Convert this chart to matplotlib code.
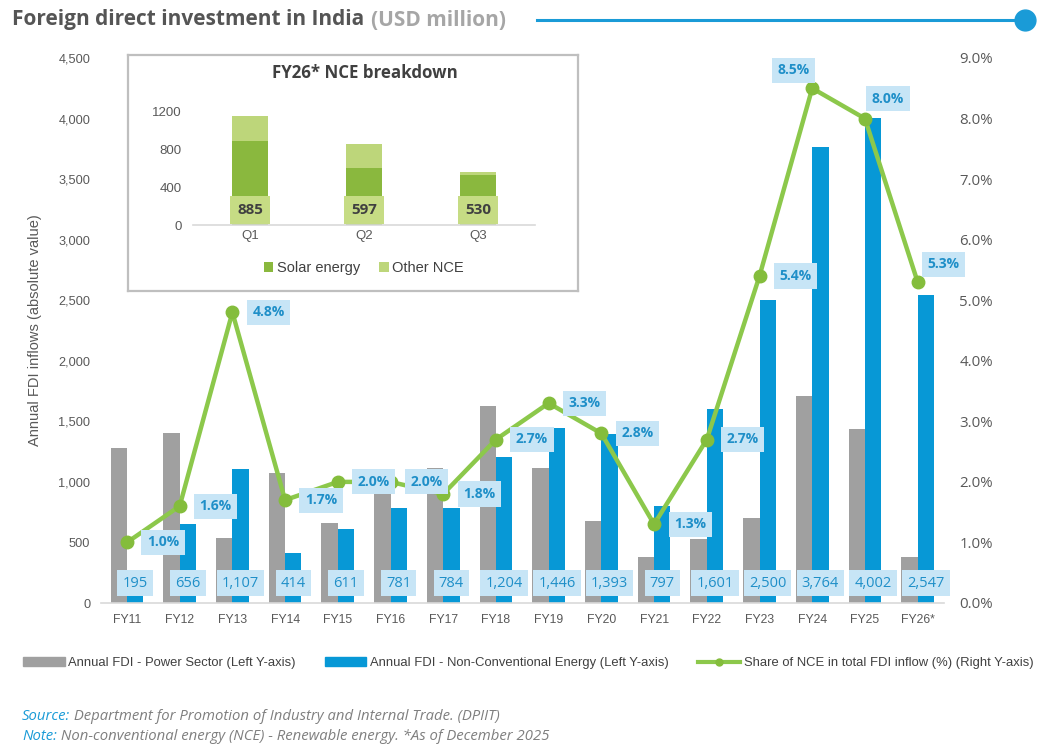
import matplotlib
matplotlib.use("Agg")
import matplotlib.pyplot as plt
from matplotlib.patches import Patch
from matplotlib.lines import Line2D
import numpy as np

# ---------------- data ----------------
years = ["FY11", "FY12", "FY13", "FY14", "FY15", "FY16", "FY17", "FY18",
         "FY19", "FY20", "FY21", "FY22", "FY23", "FY24", "FY25", "FY26*"]
power_fdi = [1280, 1405, 537, 1073, 661, 900, 1115, 1627,
             1115, 677, 380, 528, 702, 1709, 1437, 380]
nce_fdi = [195, 656, 1107, 414, 611, 781, 784, 1204,
           1446, 1393, 797, 1601, 2500, 3764, 4002, 2547]
nce_share = [1.0, 1.6, 4.8, 1.7, 2.0, 2.0, 1.8, 2.7,
             3.3, 2.8, 1.3, 2.7, 5.4, 8.5, 8.0, 5.3]

quarters = ["Q1", "Q2", "Q3"]
solar = [885, 597, 530]
other_nce = [262, 256, 28]

# ---------------- style ----------------
GRAY = "#a0a0a0"
BLUE = "#0798d6"
GREEN = "#8cc84b"
GREEN_MK = "#84bd3c"
LBOX = "#c7e5f6"
LTXT = "#1f8fc8"
TXT = "#595959"
SOLAR = "#8ab83e"
OTHER = "#bdd67a"
ARIAL = ["Liberation Sans", "DejaVu Sans"]

plt.rcParams["font.family"] = ["Open Sans", "DejaVu Sans"]

fig = plt.figure(figsize=(10.54, 7.51), dpi=100)
W, H = 1054, 751

def fx(px):
    return px / W

def fy(py):
    return 1 - py / H

ax = fig.add_axes([fx(100.6), fy(603), fx(944 - 100.6), (603 - 58) / H])
x = np.arange(len(years))
bw = 0.31
ax.bar(x - bw / 2, power_fdi, width=bw, color=GRAY, zorder=2)
ax.bar(x + bw / 2, nce_fdi, width=bw, color=BLUE, zorder=2)
ax.set_xlim(-0.5, len(years) - 0.5)
ax.set_ylim(0, 4500)
ax.set_yticks(np.arange(0, 4501, 500))
ax.set_yticklabels([f"{v:,}" for v in range(0, 4501, 500)])
ax.set_xticks(x)
ax.set_xticklabels(years)
ax.tick_params(axis="both", length=0, colors=TXT)
ax.tick_params(axis="x", pad=8, labelsize=8.8)
ax.tick_params(axis="y", pad=7.5, labelsize=9.2)
for lab in ax.get_xticklabels() + ax.get_yticklabels():
    lab.set_family(ARIAL)
for s in ["top", "right", "left"]:
    ax.spines[s].set_visible(False)
ax.spines["bottom"].set_color("#d9d9d9")
ax.spines["bottom"].set_linewidth(1.2)
ax.set_ylabel("Annual FDI inflows (absolute value)", color=TXT, fontsize=10.5,
              family=ARIAL, labelpad=12)

# value labels for NCE bars
for xi, v in zip(x, nce_fdi):
    ax.text(xi + bw / 2, 165, f"{v:,}", ha="center", va="center", fontsize=10.5,
            color=LTXT, zorder=6,
            bbox=dict(boxstyle="square,pad=0.35", fc=LBOX, ec="none"))

ax2 = ax.twinx()
ax2.set_ylim(0, 9)
ax2.set_yticks(np.arange(0, 9.01, 1))
ax2.set_yticklabels([f"{v:.1f}%" for v in np.arange(0, 9.01, 1)])
ax2.tick_params(axis="y", length=0, colors=TXT, labelsize=10.8, pad=11)
for s in ["top", "right", "left", "bottom"]:
    ax2.spines[s].set_visible(False)
ax2.plot(x, nce_share, color=GREEN, lw=3.2, marker="o", ms=9,
         mfc=GREEN_MK, mec=GREEN_MK, zorder=4)

offsets = [(36, 0)] * 13 + [(-19, 18), (23, 20), (26, 18)]
for xi, v, (dx, dy) in zip(x, nce_share, offsets):
    ax2.annotate(f"{v:.1f}%", (xi, v), xytext=(dx * 0.72, dy * 0.72),
                 textcoords="offset points", ha="center", va="center",
                 fontsize=10, fontweight="bold", color=LTXT, zorder=7,
                 bbox=dict(boxstyle="square,pad=0.4", fc=LBOX, ec="none"))

# ---------------- inset ----------------
frame = fig.add_axes([fx(128), fy(291), fx(578 - 128), (291 - 55) / H])
frame.set_xticks([])
frame.set_yticks([])
frame.set_facecolor("white")
for s in frame.spines.values():
    s.set_color("#bfbfbf")
    s.set_linewidth(1.6)
frame.set_zorder(8)

ins = fig.add_axes([fx(193), fy(225), fx(535 - 193), (225 - 111) / H])
ins.set_zorder(9)
ins.patch.set_alpha(0)
xq = np.arange(len(quarters))
ins.bar(xq, solar, width=0.32, color=SOLAR, label="Solar energy")
ins.bar(xq, other_nce, bottom=solar, width=0.32, color=OTHER, label="Other NCE")
ins.set_xlim(-0.5, 2.5)
ins.set_ylim(0, 1200)
ins.set_yticks([0, 400, 800, 1200])
ins.set_xticks(xq)
ins.set_xticklabels(quarters)
ins.tick_params(axis="both", length=0, colors=TXT, labelsize=9.5)
ins.tick_params(axis="y", pad=8)
for lab in ins.get_xticklabels() + ins.get_yticklabels():
    lab.set_family(ARIAL)
for s in ["top", "right", "left"]:
    ins.spines[s].set_visible(False)
ins.spines["bottom"].set_color("#d9d9d9")
ins.spines["bottom"].set_linewidth(1.2)
for xi, v in zip(xq, solar):
    ins.text(xi, 155, f"{v}", ha="center", va="center", fontsize=11,
             fontweight="bold", color="#404040",
             bbox=dict(boxstyle="square,pad=0.45", fc="#c6dc84", ec="none"))
fig.text(fx(365), fy(73), "FY26* NCE breakdown", ha="center", va="center",
         fontsize=12.2, fontweight="bold", color="#404040", zorder=10)
ins.legend(loc="center", bbox_to_anchor=(0.5, -0.38), ncol=2, frameon=False,
           prop={"family": ARIAL, "size": 10.5}, labelcolor="#404040",
           handlelength=0.65, handleheight=0.65, handletextpad=0.25, columnspacing=1.3)

# ---------------- title ----------------
t1 = fig.text(fx(12), fy(20), "Foreign direct investment in India", ha="left",
              va="center", fontsize=15, fontweight="bold", color="#555555")
fig.text(0, 0, "")
ann = plt.annotate("(USD million)", xy=(1, 0.5), xycoords=t1, xytext=(5, 0),
                   textcoords="offset points", ha="left", va="center",
                   fontsize=15, fontweight="bold", color="#a6a6a6",
                   annotation_clip=False)
fig.add_artist(Line2D([fx(537), fx(1025)], [fy(20), fy(20)], color="#1a9bd7", lw=2.2))
fig.add_artist(Line2D([fx(1025)], [fy(20)], marker="o", ms=15, color="#1a9bd7"))

# ---------------- legend ----------------
handles = [Patch(color=GRAY), Patch(color=BLUE),
           Line2D([0], [0], color=GREEN, lw=3, marker="o", ms=5, mfc=GREEN_MK, mec=GREEN_MK)]
labels = ["Annual FDI - Power Sector (Left Y-axis)",
          "Annual FDI - Non-Conventional Energy (Left Y-axis)",
          "Share of NCE in total FDI inflow (%) (Right Y-axis)"]
fig.legend(handles, labels, loc="center", bbox_to_anchor=(fx(528), fy(663)), ncol=3,
           frameon=False, prop={"family": ARIAL, "size": 9.4},
           labelcolor="#404040", handlelength=3.2, handleheight=0.6,
           handletextpad=0.3, columnspacing=2.2)

# ---------------- source ----------------
s1 = fig.text(fx(22), fy(717), "Source:", ha="left", va="center", fontsize=10.7,
              style="italic", color="#1a9bd7")
plt.annotate(" Department for Promotion of Industry and Internal Trade. (DPIIT)",
             xy=(1, 0.5), xycoords=s1, ha="left", va="center", fontsize=10.7,
             style="italic", color="#7f7f7f", annotation_clip=False)
s2 = fig.text(fx(22), fy(736), "Note:", ha="left", va="center", fontsize=10.7,
              style="italic", color="#1a9bd7")
plt.annotate(" Non-conventional energy (NCE) - Renewable energy. *As of December 2025",
             xy=(1, 0.5), xycoords=s2, ha="left", va="center", fontsize=10.7,
             style="italic", color="#7f7f7f", annotation_clip=False)

fig.savefig("out.png", dpi=100)
